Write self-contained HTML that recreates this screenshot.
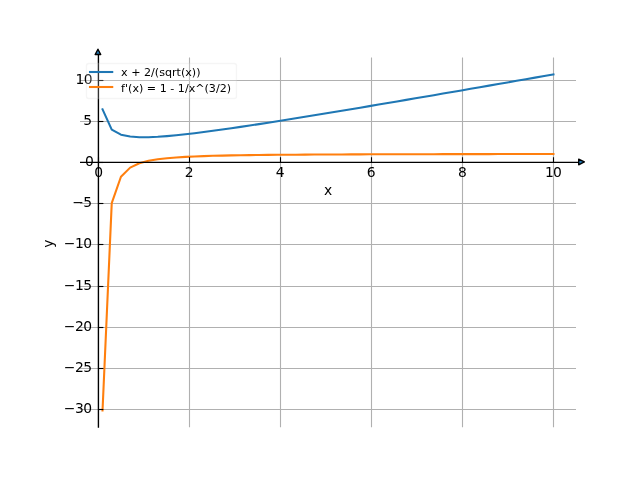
<!DOCTYPE html>
<html lang="en"><head><meta charset="utf-8"><title>x + 2/(sqrt(x)) plot</title>
<style>html,body{margin:0;padding:0;background:#fff;overflow:hidden}body{width:640px;height:480px}svg{display:block}text{font-family:"DejaVu Sans","Liberation Sans",sans-serif;fill:#000}.tk{font-size:13.889px}.lg{font-size:11.111px}</style></head><body>
<svg width="640" height="480" viewBox="0 0 640 480" style="will-change:transform">
<rect width="640" height="480" fill="#fff"/>
<g stroke="#b0b0b0" stroke-width="1.111" fill="none">
<line x1="98.5" y1="57.6" x2="98.5" y2="427.2"/>
<line x1="189.5" y1="57.6" x2="189.5" y2="427.2"/>
<line x1="280.5" y1="57.6" x2="280.5" y2="427.2"/>
<line x1="371.5" y1="57.6" x2="371.5" y2="427.2"/>
<line x1="462.5" y1="57.6" x2="462.5" y2="427.2"/>
<line x1="553.5" y1="57.6" x2="553.5" y2="427.2"/>
<line x1="80.0" y1="409.5" x2="576.0" y2="409.5"/>
<line x1="80.0" y1="368.5" x2="576.0" y2="368.5"/>
<line x1="80.0" y1="327.5" x2="576.0" y2="327.5"/>
<line x1="80.0" y1="286.5" x2="576.0" y2="286.5"/>
<line x1="80.0" y1="244.5" x2="576.0" y2="244.5"/>
<line x1="80.0" y1="203.5" x2="576.0" y2="203.5"/>
<line x1="80.0" y1="162.5" x2="576.0" y2="162.5"/>
<line x1="80.0" y1="121.5" x2="576.0" y2="121.5"/>
<line x1="80.0" y1="80.5" x2="576.0" y2="80.5"/>
</g>
<g class="tk">
<text x="98.54" y="177" text-anchor="middle">0</text>
<text x="189.04" y="177" text-anchor="middle">2</text>
<text x="280.15" y="177" text-anchor="middle">4</text>
<text x="371.25" y="177" text-anchor="middle">6</text>
<text x="462.35" y="177" text-anchor="middle">8</text>
<text x="553.05" y="177" text-anchor="middle" letter-spacing="-0.8">10</text>
<text x="91.6" y="413" text-anchor="end" letter-spacing="-0.5">−30</text>
<text x="91.6" y="372" text-anchor="end" letter-spacing="-0.5">−25</text>
<text x="91.6" y="331" text-anchor="end" letter-spacing="-0.5">−20</text>
<text x="91.6" y="290" text-anchor="end" letter-spacing="-0.5">−15</text>
<text x="91.6" y="248" text-anchor="end" letter-spacing="-0.5">−10</text>
<text x="91.6" y="207" text-anchor="end" letter-spacing="-0.5">−5</text>
<text x="93.9" y="166" text-anchor="end">0</text>
<text x="92.2" y="125" text-anchor="end">5</text>
<text x="92.2" y="84" text-anchor="end" letter-spacing="-0.5">10</text>
<text x="328" y="195" text-anchor="middle">x</text>
<text transform="translate(53.3 243.7) rotate(-90)" text-anchor="middle">y</text>
</g>
<g fill="none" stroke-width="2.083" stroke-linecap="square" stroke-linejoin="round">
<polyline stroke="#1f77b4" points="102.54,109.31 111.74,129.57 120.95,134.65 130.15,136.58 139.35,137.22 148.55,137.21 157.75,136.80 166.96,136.13 176.16,135.27 185.36,134.29 194.56,133.21 203.77,132.04 212.97,130.82 222.17,129.55 231.37,128.23 240.58,126.88 249.78,125.51 258.98,124.10 268.18,122.68 277.38,121.24 286.59,119.78 295.79,118.30 304.99,116.82 314.19,115.32 323.40,113.81 332.60,112.29 341.80,110.76 351.00,109.23 360.21,107.69 369.41,106.14 378.61,104.59 387.81,103.03 397.01,101.47 406.22,99.90 415.42,98.33 424.62,96.75 433.82,95.17 443.03,93.59 452.23,92.00 461.43,90.41 470.63,88.82 479.84,87.23 489.04,85.63 498.24,84.03 507.44,82.43 516.64,80.82 525.85,79.22 535.05,77.61 544.25,76.00 553.45,74.39"/>
<polyline stroke="#ff7f0e" points="102.54,410.47 111.74,203.16 120.95,176.72 130.15,167.62 139.35,163.27 148.55,160.80 157.75,159.24 166.96,158.18 176.16,157.42 185.36,156.86 194.56,156.43 203.77,156.09 212.97,155.81 222.17,155.59 231.37,155.40 240.58,155.25 249.78,155.11 258.98,155.00 268.18,154.90 277.38,154.81 286.59,154.74 295.79,154.67 304.99,154.61 314.19,154.56 323.40,154.51 332.60,154.46 341.80,154.43 351.00,154.39 360.21,154.36 369.41,154.33 378.61,154.30 387.81,154.27 397.01,154.25 406.22,154.23 415.42,154.21 424.62,154.19 433.82,154.17 443.03,154.16 452.23,154.14 461.43,154.13 470.63,154.11 479.84,154.10 489.04,154.09 498.24,154.08 507.44,154.07 516.64,154.06 525.85,154.05 535.05,154.04 544.25,154.03 553.45,154.02"/>
</g>
<g stroke="#000" stroke-width="1.111" fill="none">
<line x1="98.5" y1="162.10" x2="98.5" y2="157.24"/>
<line x1="189.5" y1="162.10" x2="189.5" y2="157.24"/>
<line x1="280.5" y1="162.10" x2="280.5" y2="157.24"/>
<line x1="371.5" y1="162.10" x2="371.5" y2="157.24"/>
<line x1="462.5" y1="162.10" x2="462.5" y2="157.24"/>
<line x1="553.5" y1="162.10" x2="553.5" y2="157.24"/>
<line x1="97.94" y1="409.5" x2="103.4" y2="409.5"/>
<line x1="97.94" y1="368.5" x2="103.4" y2="368.5"/>
<line x1="97.94" y1="327.5" x2="103.4" y2="327.5"/>
<line x1="97.94" y1="286.5" x2="103.4" y2="286.5"/>
<line x1="97.94" y1="244.5" x2="103.4" y2="244.5"/>
<line x1="97.94" y1="203.5" x2="103.4" y2="203.5"/>
<line x1="97.94" y1="162.5" x2="103.4" y2="162.5"/>
<line x1="97.94" y1="121.5" x2="103.4" y2="121.5"/>
<line x1="97.94" y1="80.5" x2="103.4" y2="80.5"/>
</g>
<g stroke="#000" stroke-width="1.35" fill="none">
<line x1="98.42" y1="54.65" x2="98.42" y2="427.75"/>
<line x1="80.0" y1="162.43" x2="578.7" y2="162.43"/>
</g>
<g stroke="#000" stroke-width="1.389" stroke-linejoin="round" fill="#1f77b4">
<polygon points="578.7,159.2 584.35,161.98 578.7,164.76"/>
<polygon points="95.17,54.5 97.95,49.2 100.73,54.5"/>
</g>
<rect x="86.5" y="63.5" width="150" height="35" rx="2.22" ry="2.22" fill="#fff" fill-opacity="0.2" stroke="#ccc" stroke-opacity="0.2" stroke-width="1.389"/>
<g fill="none" stroke-width="2.083" stroke-linecap="square">
<line stroke="#1f77b4" x1="90" y1="72" x2="112.22" y2="72"/>
<line stroke="#ff7f0e" x1="90" y1="87" x2="112.22" y2="87"/>
</g>
<g class="lg">
<text x="121.11" y="75.8">x + 2/(sqrt(x))</text>
<text x="121.11" y="92">f'(x) = 1 - 1/x^(3/2)</text>
</g>
</svg></body></html>
